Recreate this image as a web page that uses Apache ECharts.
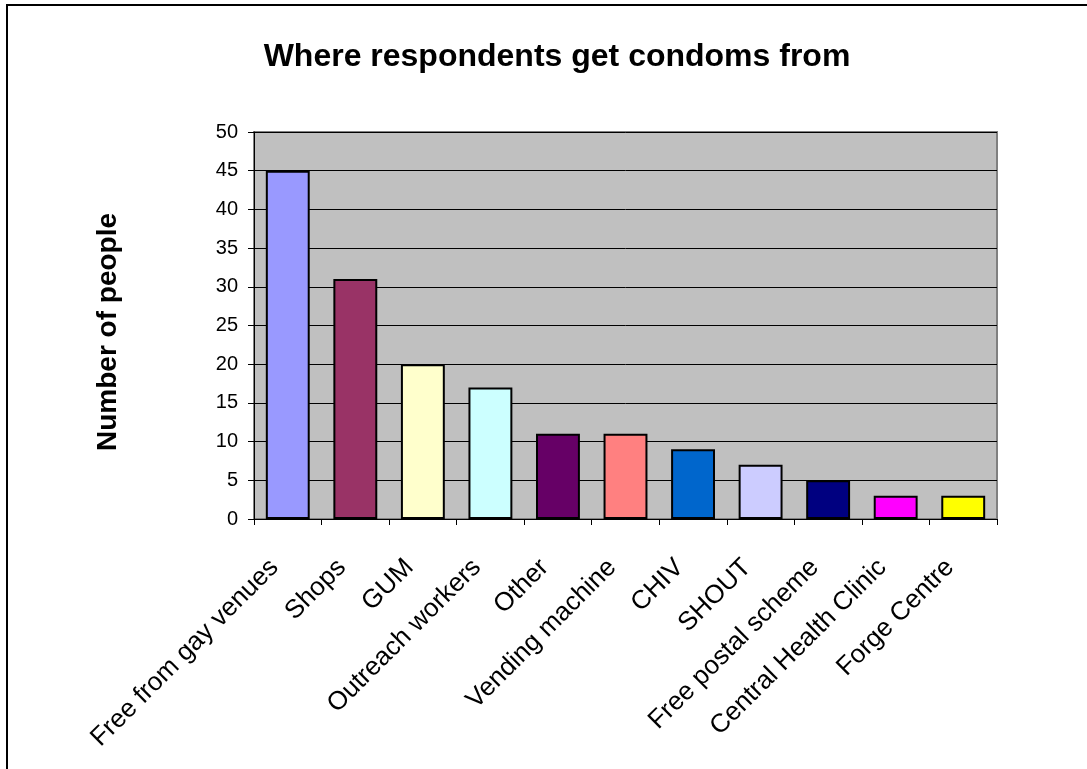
<!DOCTYPE html>
<html>
<head>
<meta charset="utf-8">
<script src="https://cdn.jsdelivr.net/npm/echarts@6/dist/echarts.min.js"></script>
<style>html,body{margin:0;padding:0;background:#fff;}#c{width:1087px;height:769px;}</style>
</head>
<body>
<div id="c"></div>
<script>
const categories = ["Free from gay venues","Shops","GUM","Outreach workers","Other","Vending machine","CHIV","SHOUT","Free postal scheme","Central Health Clinic","Forge Centre"];
const values = [45,31,20,17,11,11,9,7,5,3,3];
const colors = ["#9999FF","#993366","#FFFFCC","#CCFFFF","#660066","#FF8080","#0066CC","#CCCCFF","#000080","#FF00FF","#FFFF00"];
const yTicks = {min:0,max:50,interval:5};

const chart = echarts.init(document.getElementById('c'), null, {renderer:'canvas'});
chart.setOption({
  animation:false,
  backgroundColor:'#ffffff',
  textStyle:{fontFamily:'"Liberation Sans", Arial, sans-serif'},
  title:{text:'Where respondents get condoms from',left:552,top:36,textAlign:'center',
    textStyle:{fontSize:32,fontWeight:'bold',color:'#000',fontFamily:'"Liberation Sans", Arial, sans-serif'}},
  graphic:[{type:'rect',shape:{x:7,y:5,width:1200,height:900},style:{fill:'none',stroke:'#000',lineWidth:2},silent:true}],
  grid:{left:254,right:90,top:132,bottom:250,show:true,backgroundColor:'#C0C0C0',borderColor:'#808080',borderWidth:2,containLabel:false},
  xAxis:{type:'category',data:categories,
    axisLine:{lineStyle:{color:'#000',width:1}},
    axisTick:{show:true,length:6,lineStyle:{color:'#000'}},
    axisLabel:{rotate:45,fontSize:26,color:'#000',margin:31,padding:[0,19,0,0],interval:0}},
  yAxis:{type:'value',min:yTicks.min,max:yTicks.max,interval:yTicks.interval,
    name:'Number of people',nameLocation:'middle',nameRotate:90,nameGap:132,
    nameTextStyle:{fontSize:28,fontWeight:'bold',color:'#000',padding:[0,13,0,0]},
    axisLine:{show:true,lineStyle:{color:'#000',width:1}},
    axisTick:{show:true,length:6,lineStyle:{color:'#000'}},
    axisLabel:{fontSize:20,color:'#000',margin:16},
    splitLine:{show:true,lineStyle:{color:'#000',width:1}}},
  series:[{type:'bar',data:values.map((v,i)=>({value:v,itemStyle:{color:colors[i]}})),
    barCategoryGap:'35%',itemStyle:{borderColor:'#000',borderWidth:2}}]
});
</script>
</body>
</html>
